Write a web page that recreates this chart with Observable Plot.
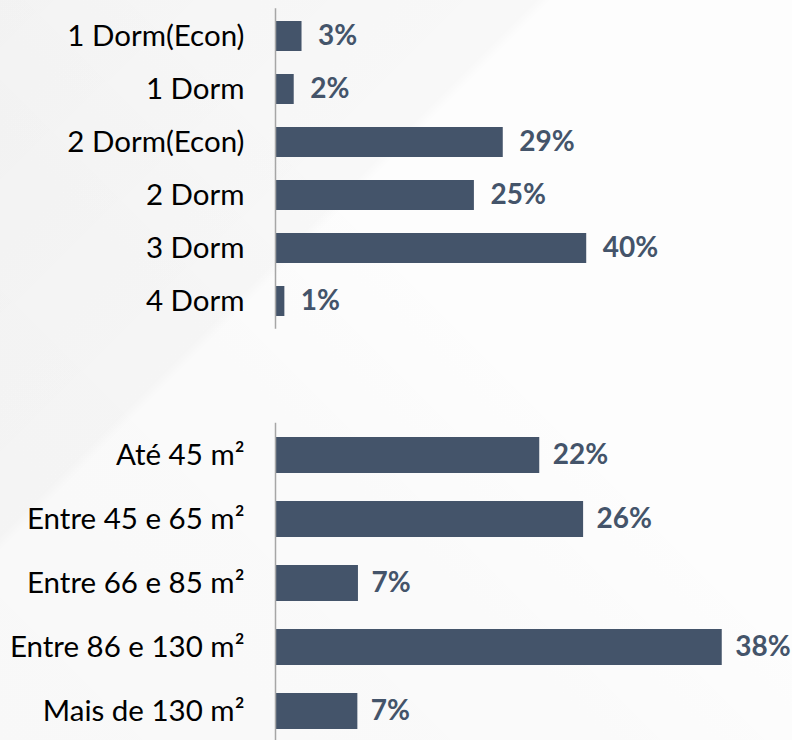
<!DOCTYPE html>
<html>
<head>
<meta charset="utf-8">
<script src="https://cdn.jsdelivr.net/npm/d3@7"></script>
<script src="https://cdn.jsdelivr.net/npm/@observablehq/plot@0.6"></script>
<style>
  html, body { margin: 0; padding: 0; overflow: hidden; }
  #wrap {
    position: relative; width: 792px; height: 740px; overflow: hidden;
    background:
      linear-gradient(135deg, rgba(0,0,0,0.035) 0%, rgba(0,0,0,0.02) 35%, rgba(0,0,0,0) 36%),
      linear-gradient(45deg, rgba(0,0,0,0.02) 0%, rgba(0,0,0,0.01) 40%, rgba(0,0,0,0) 60%),
      #fdfdfd;
  }
  #top, #bottom { position: absolute; left: 0; }
  #top { top: 0; }
  #bottom { top: 400px; }
  svg { overflow: visible; background: transparent !important; }
</style>
</head>
<body>
<div id="wrap"><div id="top"></div><div id="bottom"></div></div>
<script>
// Top chart: bedrooms
const dormCategories = ["1 Dorm(Econ)", "1 Dorm", "2 Dorm(Econ)", "2 Dorm", "3 Dorm", "4 Dorm"];
const dormValues = [3.4, 2.4, 29.2, 25.5, 39.9, 1.2];
const dormLabels = ["3%", "2%", "29%", "25%", "40%", "1%"];

// Bottom chart: area
const areaCategories = ["Até 45 m²", "Entre 45 e 65 m²", "Entre 66 e 85 m²", "Entre 86 e 130 m²", "Mais de 130 m²"];
const areaValues = [22.3, 26.0, 7.0, 37.7, 6.95];
const areaLabels = ["22%", "26%", "7%", "38%", "7%"];

const barColor = "#44546a";
const fontFamily = "Lato, 'Open Sans', sans-serif";

function makeChart(cats, vals, labels, opts) {
  const data = cats.map((c, i) => ({cat: c, v: vals[i], label: labels[i]}));
  return Plot.plot({
    width: 792,
    height: opts.height,
    marginLeft: 275,
    marginRight: opts.marginRight,
    marginTop: opts.marginTop,
    marginBottom: opts.marginBottom,
    style: {fontFamily, fontSize: "29.5px", background: "transparent"},
    x: {domain: opts.xDomain, axis: null},
    y: {domain: cats, paddingInner: 0.4375, paddingOuter: 0.21875, label: null},
    marks: [
      Plot.barX(data, {x: "v", y: "cat", fill: barColor}),
      Plot.ruleX([0], {stroke: "#a6a6a6", strokeWidth: 1.5}),
      Plot.axisY({tickSize: 0, tickPadding: 31, fontSize: 29.5, color: "#000", label: null}),
      Plot.text(data, {x: "v", y: "cat", text: "label", dx: opts.dx, textAnchor: "start",
        fill: barColor, fontWeight: "bold", fontSize: 28})
    ]
  });
}

document.getElementById("top").appendChild(
  makeChart(dormCategories, dormValues, dormLabels,
    {height: 340, marginTop: 8.3, marginBottom: 11.3, marginRight: 127, xDomain: [0, 50], dx: 16})
);
document.getElementById("bottom").appendChild(
  makeChart(areaCategories, areaValues, areaLabels,
    {height: 350, marginTop: 22.7, marginBottom: 7.2, marginRight: 43, xDomain: [0, 40], dx: 13})
);
</script>
</body>
</html>
